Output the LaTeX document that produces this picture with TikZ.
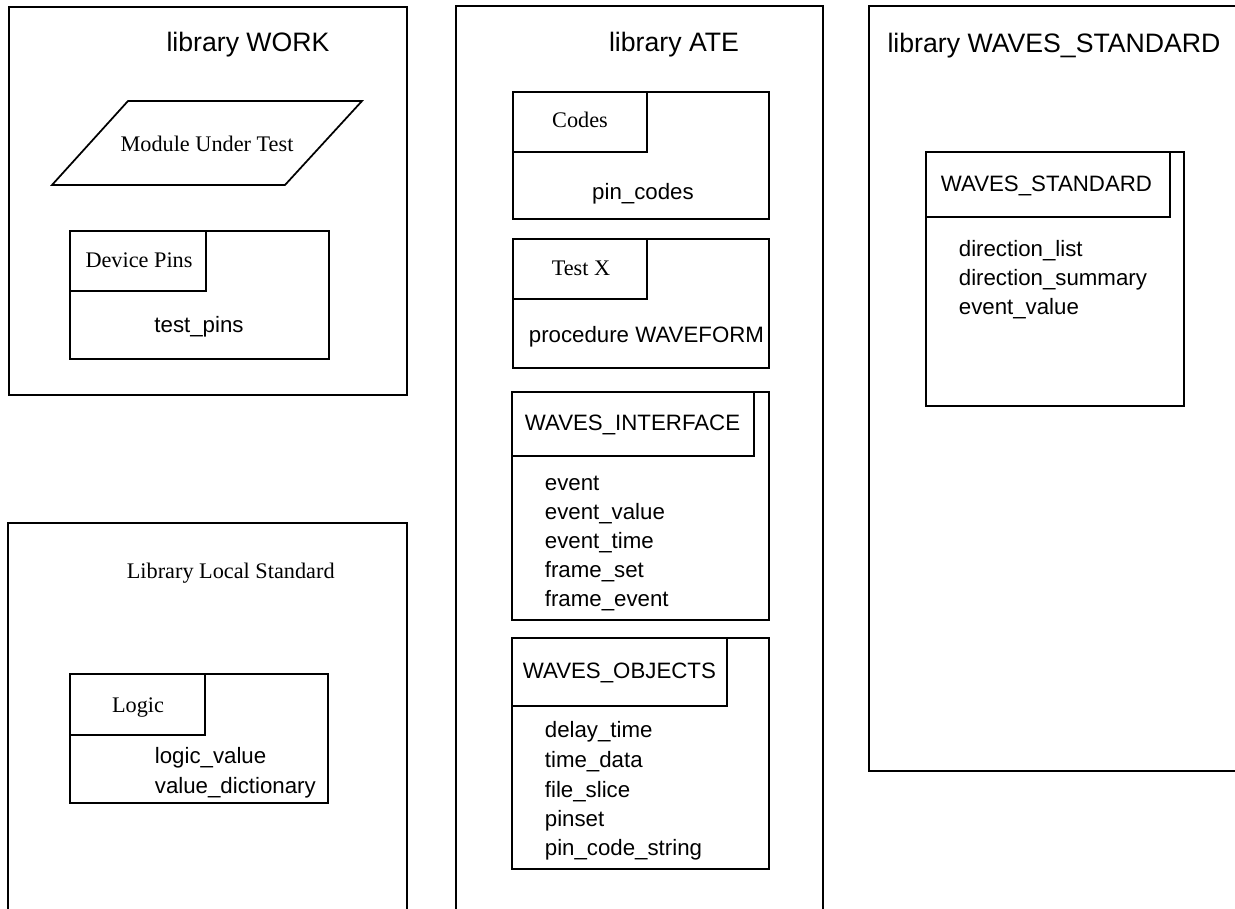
\documentclass[tikz,border=0pt]{standalone}
\usepackage{fontspec}
\setmainfont{Liberation Serif}
\setsansfont{Liberation Sans}
\begin{document}
\begin{tikzpicture}[x=0.75pt,y=-0.75pt,
  line width=1.3pt,
  sans/.style={font=\fontsize{16.7}{20}\selectfont\sffamily, inner sep=0pt},
  serif/.style={font=\fontsize{16.7}{20}\selectfont\rmfamily, inner sep=0pt},
  titletext/.style={font=\fontsize{20}{24}\selectfont\sffamily, inner sep=0pt},
  frame/.style={draw, line width=1.3pt}]
\useasboundingbox (0,0) rectangle (1235,909);

% library outlines
\draw[frame] (9,7) rectangle (407,395);
\draw[frame] (456,909) -- (456,6) -- (823,6) -- (823,909);
\draw[frame] (8,909) -- (8,523) -- (407,523) -- (407,909);
\draw[frame] (1235,771) -- (869,771) -- (869,6) -- (1235,6);

% titles
\node[titletext, anchor=base] (tWork) at (248,52) {library WORK};
\node[titletext, anchor=base] (tAte) at (674,52) {library ATE};
\node[titletext, anchor=base] (tWs) at (1054,53) {library WAVES\_STANDARD};
\node[serif, anchor=base west] (tLocal) at (126,578) {Library Local Standard};

% Module Under Test
\draw[frame] (128,101) -- (362,101) -- (285,185) -- (52,185) -- cycle;
\node[serif, anchor=base] (mut) at (207,152) {Module Under Test};

% Device Pins
\draw[frame] (70,231) rectangle (329,359);
\draw[frame] (70,291) -| (206,231);
\node[serif, anchor=base] (dp) at (139,268) {Device Pins};
\node[sans, anchor=base] (tp) at (199,333) {test\_pins};

% Codes
\draw[frame] (513,92) rectangle (769,219);
\draw[frame] (513,152) -| (647,92);
\node[serif, anchor=base] (codes) at (580,128) {Codes};
\node[sans, anchor=base] (pc) at (643,200) {pin\_codes};

% Test X
\draw[frame] (513,239) rectangle (769,368);
\draw[frame] (513,299) -| (647,239);
\node[serif, anchor=base] (testx) at (581,276) {Test X};
\node[sans, anchor=base west] (pw) at (528,342) {procedure WAVEFORM};

% WAVES_INTERFACE
\draw[frame] (512,392) rectangle (769,620);
\draw[frame] (512,456) -| (754,392);
\node[sans, anchor=base west] (wi) at (524,430) {WAVES\_INTERFACE};
\node[sans, anchor=base west] (wi1) at (544,490) {event};
\node[sans, anchor=base west] (wi2) at (544,519) {event\_value};
\node[sans, anchor=base west] (wi3) at (544,548) {event\_time};
\node[sans, anchor=base west] (wi4) at (544,577) {frame\_set};
\node[sans, anchor=base west] (wi5) at (544,606) {frame\_event};

% WAVES_OBJECTS
\draw[frame] (512,638) rectangle (769,869);
\draw[frame] (512,706) -| (727,638);
\node[sans, anchor=base west] (wo) at (522,678) {WAVES\_OBJECTS};
\node[sans, anchor=base west] (wo1) at (544,737) {delay\_time};
\node[sans, anchor=base west] (wo2) at (544,767) {time\_data};
\node[sans, anchor=base west] (wo3) at (544,797) {file\_slice};
\node[sans, anchor=base west] (wo4) at (544,826) {pinset};
\node[sans, anchor=base west] (wo5) at (544,855) {pin\_code\_string};

% WAVES_STANDARD
\draw[frame] (926,152) rectangle (1184,406);
\draw[frame] (926,217) -| (1170,152);
\node[sans, anchor=base west] (ws) at (940,192) {WAVES\_STANDARD};
\node[sans, anchor=base west] (ws1) at (958,257) {direction\_list};
\node[sans, anchor=base west] (ws2) at (958,286) {direction\_summary};
\node[sans, anchor=base west] (ws3) at (958,315) {event\_value};

% Logic
\draw[frame] (70,674) rectangle (328,803);
\draw[frame] (70,735) -| (205,674);
\node[serif, anchor=base] (logic) at (138,712) {Logic};
\node[sans, anchor=base west] (lg1) at (154,763) {logic\_value};
\node[sans, anchor=base west] (lg2) at (154,793) {value\_dictionary};
\end{tikzpicture}
\end{document}
